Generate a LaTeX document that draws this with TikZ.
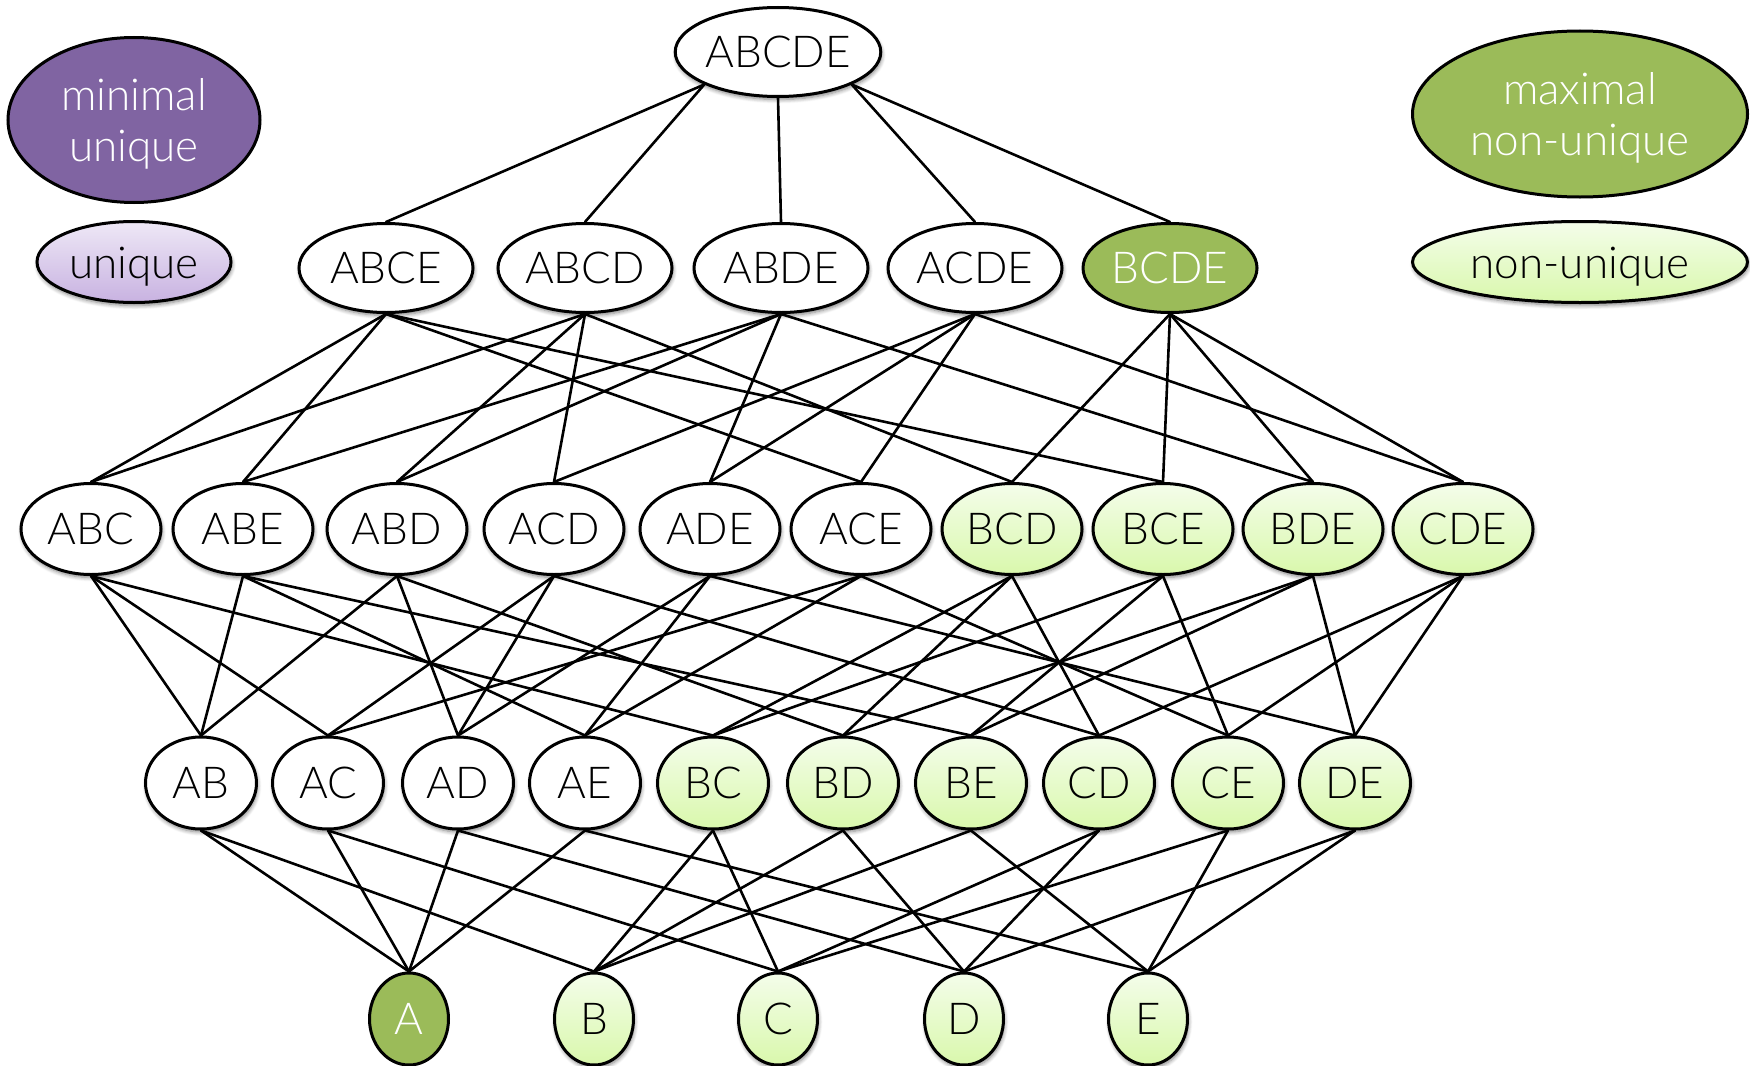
\documentclass[tikz,border=0pt]{standalone}
\usepackage{fontspec}
\IfFontExistsTF{Lato Light}{\setmainfont{Lato Light}}{\setmainfont{Lato}}
\usetikzlibrary{shapes.geometric,shadows.blur}
\definecolor{dgreen}{HTML}{9BBB59}
\definecolor{dpurple}{HTML}{8064A2}
\definecolor{lgtop}{HTML}{F4FDEA}
\definecolor{lgbot}{HTML}{D9F8AC}
\definecolor{lptop}{HTML}{EEE8F6}
\definecolor{lpbot}{HTML}{C8B2E1}
\newcommand{\lowtxt}[1]{\raisebox{-6pt}[\height][\depth]{\begin{tabular}{@{}c@{}}#1\end{tabular}}}
\begin{document}
\begin{tikzpicture}[x=1pt,y=-1pt,
  base/.style={ellipse, draw=black, line width=3pt, inner sep=0pt, align=center,
    font=\fontsize{44}{51}\selectfont},
  sh/.style={blur shadow={shadow blur steps=6, shadow xshift=1pt, shadow yshift=-3pt,
    shadow blur radius=4pt, shadow opacity=50}},
  wn/.style={base, sh, fill=white},
  lg/.style={base, sh, top color=lgtop, bottom color=lgbot},
  lp/.style={base, sh, top color=lptop, bottom color=lpbot},
  dg/.style={base, fill=dgreen, text=white},
  dp/.style={base, fill=dpurple, text=white},
  rone/.style={minimum width=201pt, minimum height=89pt},
  rtwo/.style={minimum width=174pt, minimum height=89pt},
  rthree/.style={minimum width=140pt, minimum height=91pt},
  rfour/.style={minimum width=111pt, minimum height=92pt},
  rfive/.style={minimum width=79pt, minimum height=92pt},
  edge/.style={line width=2.6pt, line cap=round}
]
\useasboundingbox (0,0) rectangle (1750,1065);
% legend
\node[dp, minimum width=252pt, minimum height=165pt] (minu) at (134,120) {\lowtxt{minimal\\unique}};
\node[lp, minimum width=194pt, minimum height=81pt] (uniq) at (134,262) {\lowtxt{unique}};
\node[dg, minimum width=335pt, minimum height=166pt] (maxn) at (1580,114) {\lowtxt{maximal\\non-unique}};
\node[lg, minimum width=335pt, minimum height=81pt] (nonu) at (1580,262) {\lowtxt{non-unique}};
% level 5
\node[wn, rone] (ABCDE) at (778,52) {ABCDE};
% level 4
\node[wn, rtwo] (ABCE) at (386,268) {ABCE};
\node[wn, rtwo] (ABCD) at (585,268) {ABCD};
\node[wn, rtwo] (ABDE) at (781,268) {ABDE};
\node[wn, rtwo] (ACDE) at (975,268) {ACDE};
\node[dg, rtwo] (BCDE) at (1170,268) {BCDE};
% level 3
\node[wn, rthree] (ABC) at (91,529) {ABC};
\node[wn, rthree] (ABE) at (243,529) {ABE};
\node[wn, rthree] (ABD) at (397,529) {ABD};
\node[wn, rthree] (ACD) at (554,529) {ACD};
\node[wn, rthree] (ADE) at (710,529) {ADE};
\node[wn, rthree] (ACE) at (861,529) {ACE};
\node[lg, rthree] (BCD) at (1012,529) {BCD};
\node[lg, rthree] (BCE) at (1163,529) {BCE};
\node[lg, rthree] (BDE) at (1313,529) {BDE};
\node[lg, rthree] (CDE) at (1463,529) {CDE};
% level 2
\node[wn, rfour] (AB) at (201,783) {AB};
\node[wn, rfour] (AC) at (328,783) {AC};
\node[wn, rfour] (AD) at (458,783) {AD};
\node[wn, rfour] (AE) at (585,783) {AE};
\node[lg, rfour] (BC) at (713,783) {BC};
\node[lg, rfour] (BD) at (843,783) {BD};
\node[lg, rfour] (BE) at (971,783) {BE};
\node[lg, rfour] (CD) at (1099,783) {CD};
\node[lg, rfour] (CE) at (1228,783) {CE};
\node[lg, rfour] (DE) at (1355,783) {DE};
% level 1
\node[dg, rfive] (A) at (409,1019) {A};
\node[lg, rfive] (B) at (594,1019) {B};
\node[lg, rfive] (C) at (778,1019) {C};
\node[lg, rfive] (D) at (964,1019) {D};
\node[lg, rfive] (E) at (1148,1019) {E};
% edges
\draw[edge] (ABCDE.south west) -- (ABCE.north);
\draw[edge] (ABCDE.south west) -- (ABCD.north);
\draw[edge] (ABCDE.south) -- (ABDE.north);
\draw[edge] (ABCDE.south east) -- (ACDE.north);
\draw[edge] (ABCDE.south east) -- (BCDE.north);
\foreach \u/\l in {ABCE/ABC,ABCE/ABE,ABCE/ACE,ABCE/BCE,
  ABCD/ABC,ABCD/ABD,ABCD/ACD,ABCD/BCD,
  ABDE/ABE,ABDE/ABD,ABDE/ADE,ABDE/BDE,
  ACDE/ACD,ACDE/ADE,ACDE/ACE,ACDE/CDE,
  BCDE/BCD,BCDE/BCE,BCDE/BDE,BCDE/CDE,
  ABC/AB,ABC/AC,ABC/BC, ABE/AB,ABE/AE,ABE/BE,
  ABD/AB,ABD/AD,ABD/BD, ACD/AC,ACD/AD,ACD/CD,
  ADE/AD,ADE/AE,ADE/DE, ACE/AC,ACE/AE,ACE/CE,
  BCD/BC,BCD/BD,BCD/CD, BCE/BC,BCE/BE,BCE/CE,
  BDE/BD,BDE/BE,BDE/DE, CDE/CD,CDE/CE,CDE/DE,
  AB/A,AB/B, AC/A,AC/C, AD/A,AD/D, AE/A,AE/E,
  BC/B,BC/C, BD/B,BD/D, BE/B,BE/E, CD/C,CD/D, CE/C,CE/E, DE/D,DE/E}
  \draw[edge] (\u.south) -- (\l.north);
\end{tikzpicture}
\end{document}
